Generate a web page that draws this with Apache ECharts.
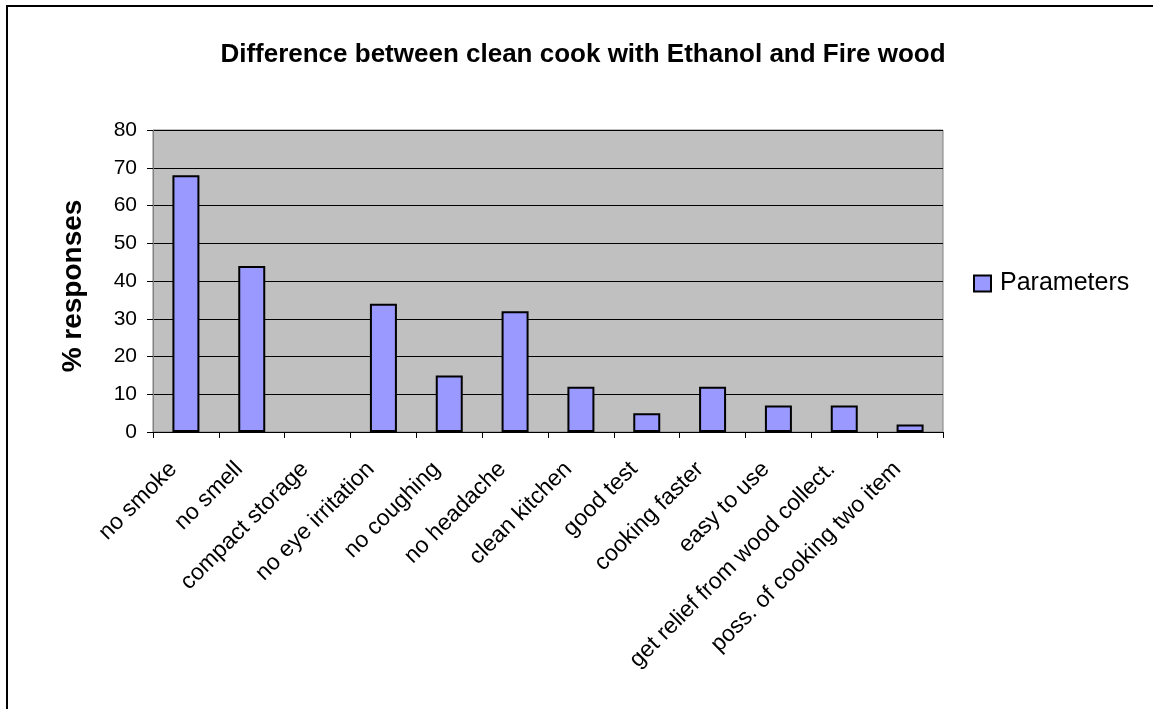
<!DOCTYPE html>
<html>
<head>
<meta charset="utf-8">
<script src="https://cdn.jsdelivr.net/npm/echarts@6/dist/echarts.min.js"></script>
<style>
html,body{margin:0;padding:0;background:#fff;}
#chart{width:1153px;height:709px;}
</style>
</head>
<body>
<div id="chart"></div>
<script>
const categories = ["no smoke","no smell","compact storage","no eye irritation","no coughing","no headache","clean kitchen","good test","cooking faster","easy to use","get relief from wood collect.","poss. of cooking two item"];
const values = [68,44,0,34,15,32,12,5,12,7,7,2];
const yTicks = [0,10,20,30,40,50,60,70,80];
const seriesName = "Parameters";
const titleText = "Difference between clean cook with Ethanol and Fire wood";
const yName = "% responses";

const chart = echarts.init(document.getElementById('chart'), null, {renderer:'canvas'});
const F = 'Liberation Sans, Arial, sans-serif';
const barData = values.map(v => v === 0 ? {value:v, itemStyle:{borderWidth:0}} : v);
chart.setOption({
  animation:false,
  backgroundColor:'#ffffff',
  textStyle:{fontFamily:F},
  graphic:[{type:'rect',shape:{x:7,y:6,width:1300,height:900},style:{fill:'none',stroke:'#000',lineWidth:2},z:-1}],
  title:{text:titleText,left:578,textAlign:'center',top:37,textStyle:{fontFamily:F,fontSize:26,fontWeight:'bold',color:'#000'}},
  legend:{data:[{name:seriesName,icon:'rect'}],left:973,top:271,padding:0,itemWidth:17,itemHeight:16,itemGap:8,
    textStyle:{fontFamily:F,fontSize:25,color:'#000',padding:[0,0,0,4]},
    itemStyle:{borderColor:'#000',borderWidth:2}},
  grid:{left:153,top:130,right:210,bottom:277,show:true,backgroundColor:'#c0c0c0',borderColor:'#808080',borderWidth:1},
  xAxis:{type:'category',data:categories,
    axisLine:{lineStyle:{color:'#000',width:1}},
    axisTick:{show:true,alignWithLabel:false,length:6,lineStyle:{color:'#000'}},
    axisLabel:{rotate:45,interval:0,fontFamily:F,fontSize:23,color:'#000',margin:21,padding:[0,18,0,0]}},
  yAxis:{type:'value',min:yTicks[0],max:yTicks[yTicks.length-1],interval:10,
    name:yName,nameLocation:'middle',nameGap:66,nameTextStyle:{fontFamily:F,fontSize:28,fontWeight:'bold',color:'#000',padding:[0,10,0,0]},
    axisLine:{show:true,lineStyle:{color:'#808080'}},
    axisTick:{show:true,length:6,lineStyle:{color:'#000'}},
    axisLabel:{fontFamily:F,fontSize:21,color:'#000',margin:16},
    splitLine:{lineStyle:{color:'#000',width:1}}},
  series:[{name:seriesName,type:'bar',data:barData,barWidth:'41%',
    itemStyle:{color:'#9999ff',borderColor:'#000',borderWidth:2}}]
});
</script>
</body>
</html>
